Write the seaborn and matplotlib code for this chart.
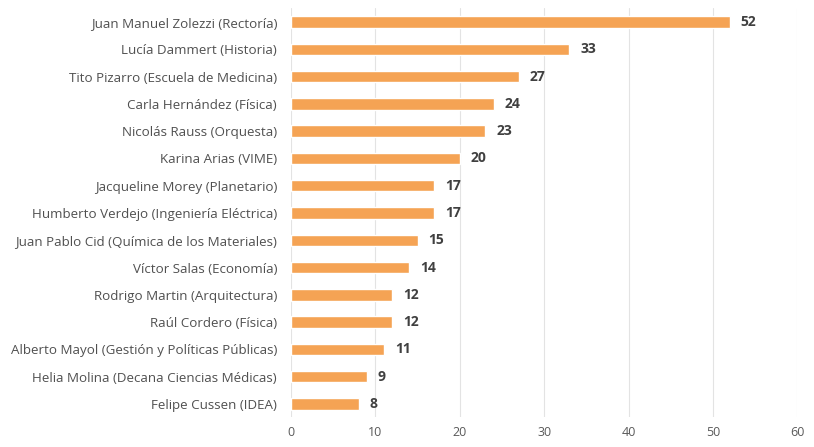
import matplotlib
matplotlib.use("Agg")
import matplotlib.pyplot as plt
import seaborn as sns
import pandas as pd

names = [
    "Juan Manuel Zolezzi (Rectoría)",
    "Lucía Dammert (Historia)",
    "Tito Pizarro (Escuela de Medicina)",
    "Carla Hernández (Física)",
    "Nicolás Rauss (Orquesta)",
    "Karina Arias (VIME)",
    "Jacqueline Morey (Planetario)",
    "Humberto Verdejo (Ingeniería Eléctrica)",
    "Juan Pablo Cid (Química de los Materiales)",
    "Víctor Salas (Economía)",
    "Rodrigo Martin (Arquitectura)",
    "Raúl Cordero (Física)",
    "Alberto Mayol (Gestión y Políticas Públicas)",
    "Helia Molina (Decana Ciencias Médicas)",
    "Felipe Cussen (IDEA)",
]
values = [52, 33, 27, 24, 23, 20, 17, 17, 15, 14, 12, 12, 11, 9, 8]
xticks = [0, 10, 20, 30, 40, 50, 60]

df = pd.DataFrame({"name": names, "value": values})

sns.set_theme(style="white")
plt.rcParams['font.family'] = ['Open Sans', 'DejaVu Sans']

fig = plt.figure(figsize=(8.14, 4.47), dpi=100)
ax = fig.add_axes([0.3575, 0.066, 0.622, 0.915])

sns.barplot(data=df, x="value", y="name", orient="h", color="#F5A354",
            width=0.42, ax=ax, saturation=1)

ax.set_xlim(0, 60)
ax.set_xticks(xticks)
ax.set_xticklabels([str(t) for t in xticks], color="#595959", fontsize=9)
ax.tick_params(axis="y", labelsize=9.6, labelcolor="#505050", length=0, pad=10)
ax.tick_params(axis="x", length=0, pad=6)
ax.set_xlabel("")
ax.set_ylabel("")
ax.xaxis.grid(True, color="#E3E3E3", linewidth=0.8)
ax.set_axisbelow(True)
for s in ax.spines.values():
    s.set_visible(False)

for i, v in enumerate(values):
    ax.text(v + 1.3, i, str(v), va="center", ha="left", fontsize=10,
            fontweight="bold", color="#404040")

fig.savefig("out.png", dpi=100)
